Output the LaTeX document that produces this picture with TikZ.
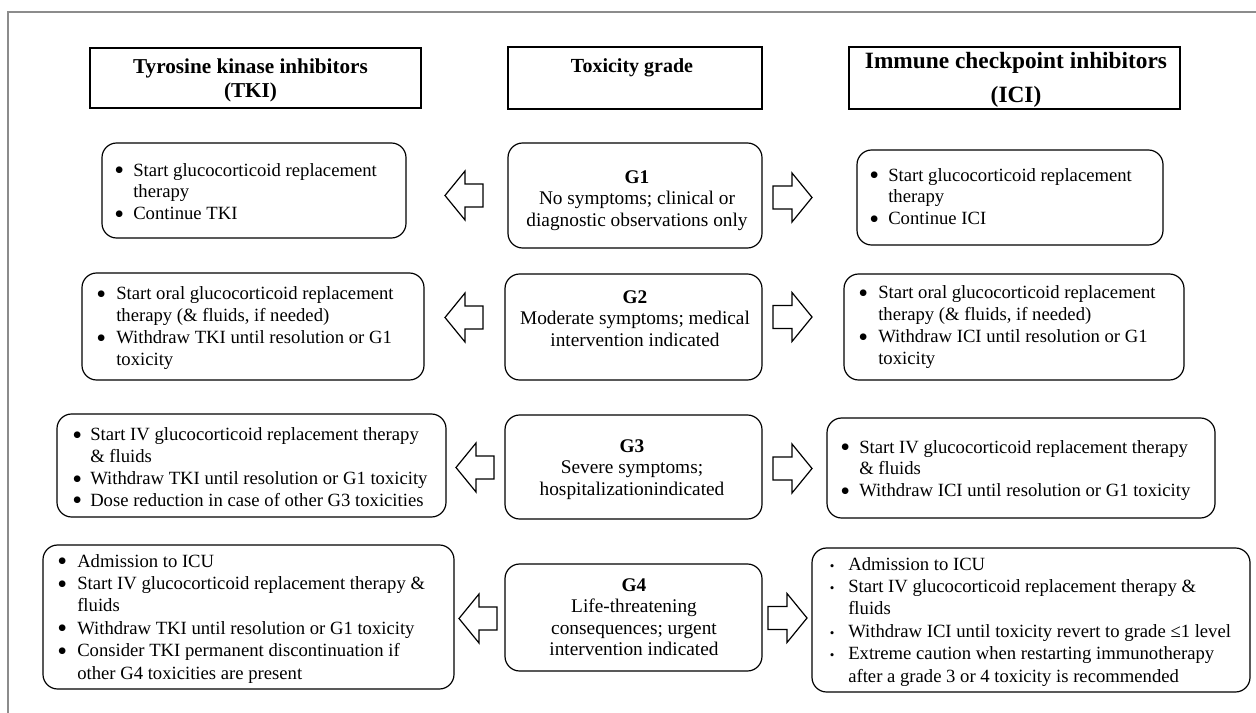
\documentclass[tikz,border=0pt]{standalone}
\usepackage{fontspec}
\setmainfont{Liberation Serif}
\usetikzlibrary{fit}
\newcommand\itm[2]{\makebox[\dimexpr#1pt*3/4\relax][l]{\makebox[0pt][c]{\raisebox{-0.2em}{\scalebox{1.5}{\textbullet}}}}#2}
\newcommand\sitm[2]{\makebox[\dimexpr#1pt*3/4\relax][l]{\makebox[0pt][c]{\scalebox{0.7}{\textbullet}}}#2}
\newcommand\cnt[2]{\hspace*{\dimexpr#1pt*3/4\relax}#2}
\newcommand\larr[3]{\draw[blk] (#2,#3) coordinate (#1) -- ++(20,-24.5) -- ++(0,13) -- ++(18,0) -- ++(0,23) -- ++(-18,0) -- ++(0,13) -- cycle;}
\newcommand\rarr[3]{\draw[blk] (#2,#3) coordinate (#1) -- ++(-20,-24.5) -- ++(0,13) -- ++(-19,0) -- ++(0,23) -- ++(19,0) -- ++(0,13) -- cycle;}
\begin{document}
\begin{tikzpicture}[x=0.75pt,y=-0.75pt,
  hdr/.style={draw=black, line width=0.9pt, inner sep=0pt},
  rbox/.style={draw=black, line width=0.9pt, rounded corners=11pt, inner sep=0pt},
  body/.style={font=\fontsize{14}{16.3}\selectfont, align=left, inner sep=0pt, anchor=base west},
  bodyb/.style={font=\fontsize{14}{16.8}\selectfont, align=left, inner sep=0pt, anchor=base west},
  mid/.style={font=\fontsize{14.5}{16.1}\selectfont, align=center, inner sep=0pt, anchor=base},
  blk/.style={draw=black, line width=0.9pt, line join=miter, fill=white},
  framec/.style={draw=black!45, line width=1.1pt}]
\useasboundingbox (0,0) rectangle (1256,713);
\draw[framec] (8,713) -- (8,12) -- (1256,12);

% headers (anchor = baseline of the last line)
\node[hdr, fit={(90,48) (421,108)}] (hT) {};
\node[font=\bfseries\fontsize{15.9}{18}\selectfont, align=center, inner sep=0pt, anchor=base] (hTt) at (250.5,98) {Tyrosine kinase inhibitors\\(TKI)};
\node[hdr, fit={(508,47) (762,109)}] (hG) {};
\node[font=\bfseries\fontsize{15}{17}\selectfont, inner sep=0pt, anchor=base] (hGt) at (632,73) {Toxicity grade};
\node[hdr, fit={(849,47) (1180,109)}] (hI) {};
\node[font=\bfseries\fontsize{17.5}{25.5}\selectfont, align=center, inner sep=0pt, anchor=base] (hIt) at (1016,103) {Immune checkpoint inhibitors\\(ICI)};

% middle column
\node[rbox, fit={(508,143) (762,248)}] (g1) {};
\node[mid] (g1t) at (637,226) {\textbf{G1}\\No symptoms; clinical or\\diagnostic observations only};
\node[rbox, fit={(505,274) (762,380)}] (g2) {};
\node[mid] (g2t) at (635,346) {\textbf{G2}\\Moderate symptoms; medical\\intervention indicated};
\node[rbox, fit={(505,415) (762,519)}] (g3) {};
\node[mid] (g3t) at (632,495) {\textbf{G3}\\Severe symptoms;\\hospitalizationindicated};
\node[rbox, fit={(505,564) (762,671)}] (g4) {};
\node[mid] (g4t) at (634,655.5) {\textbf{G4}\\Life-threatening\\consequences; urgent\\intervention indicated};

% TKI column
\node[rbox, fit={(102,143) (406,238)}] (t1) {};
\node[body] (t1t) at (119,219.5) {\itm{14}{Start glucocorticoid replacement}\\\cnt{14}{therapy}\\\itm{14}{Continue TKI}};
\node[rbox, fit={(82,273) (424,380)}] (t2) {};
\node[body] (t2t) at (101,365) {\itm{15}{Start oral glucocorticoid replacement}\\\cnt{15}{therapy (\& fluids, if needed)}\\\itm{15}{Withdraw TKI until resolution or G1}\\\cnt{15}{toxicity}};
\node[rbox, fit={(57,414) (446,517)}] (t3) {};
\node[body] (t3t) at (77,506) {\itm{13}{Start IV glucocorticoid replacement therapy}\\\cnt{13}{\& fluids}\\\itm{13}{Withdraw TKI until resolution or G1 toxicity}\\\itm{13}{Dose reduction in case of other G3 toxicities}};
\node[rbox, fit={(43,545) (454,689)}] (t4) {};
\node[bodyb] (t4t) at (62,679) {\itm{15}{Admission to ICU}\\\itm{15}{Start IV glucocorticoid replacement therapy \&}\\\cnt{15}{fluids}\\\itm{15}{Withdraw TKI until resolution or G1 toxicity}\\\itm{15}{Consider TKI permanent discontinuation if}\\\cnt{15}{other G4 toxicities are present}};

% ICI column
\node[rbox, fit={(857,150) (1163,245)}] (i1) {};
\node[body] (i1t) at (874,224.5) {\itm{14}{Start glucocorticoid replacement}\\\cnt{14}{therapy}\\\itm{14}{Continue ICI}};
\node[rbox, fit={(844,274) (1184,380)}] (i2) {};
\node[body] (i2t) at (863,364) {\itm{15}{Start oral glucocorticoid replacement}\\\cnt{15}{therapy (\& fluids, if needed)}\\\itm{15}{Withdraw ICI until resolution or G1}\\\cnt{15}{toxicity}};
\node[rbox, fit={(827,418) (1215,518)}] (i3) {};
\node[body] (i3t) at (845,496.5) {\itm{14}{Start IV glucocorticoid replacement therapy}\\\cnt{14}{\& fluids}\\\itm{14}{Withdraw ICI until resolution or G1 toxicity}};
\node[rbox, fit={(812,548) (1250,692)}] (i4) {};
\node[bodyb] (i4t) at (832,682) {\sitm{16}{Admission to ICU}\\\sitm{16}{Start IV glucocorticoid replacement therapy \&}\\\cnt{16}{fluids}\\\sitm{16}{Withdraw ICI until toxicity revert to grade ≤1 level}\\\sitm{16}{Extreme caution when restarting immunotherapy}\\\cnt{16}{after a grade 3 or 4 toxicity is recommended}};

% block arrows
\larr{a1l}{445}{195.5}
\rarr{a1r}{812}{197.5}
\larr{a2l}{445}{317.5}
\rarr{a2r}{812}{317}
\larr{a3l}{456}{467.5}
\rarr{a3r}{812}{468.5}
\larr{a4l}{459}{618.5}
\rarr{a4r}{807}{618}
\end{tikzpicture}
\end{document}
